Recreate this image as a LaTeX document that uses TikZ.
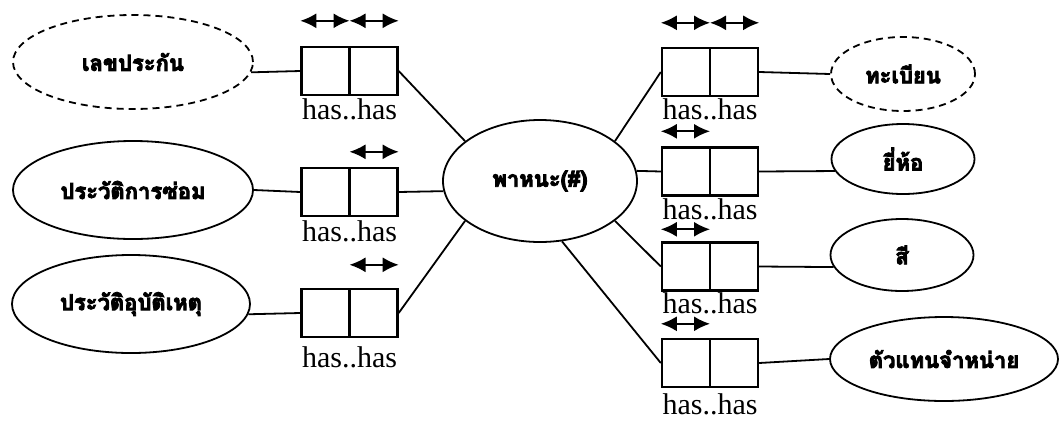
\documentclass[tikz,border=0pt]{standalone}
\usepackage{fontspec}
\setmainfont{Liberation Serif}
\newfontfamily\thaifont[Script=Thai,BoldFeatures={FakeBold=4}]{Loma}
\usetikzlibrary{shapes.geometric,arrows.meta,positioning}

\begin{document}
\begin{tikzpicture}[x=1pt,y=-1pt,
  ent/.style={draw,ellipse,line width=1.8pt,inner sep=0pt,
    font=\thaifont\bfseries\fontsize{22}{24}\selectfont},
  vent/.style={ent,dash pattern=on 7pt off 5pt},
  role/.style={draw,line width=2.4pt,minimum width=96pt,minimum height=48pt,inner sep=0pt,
    path picture={\draw[line width=2.4pt] (path picture bounding box.north) -- (path picture bounding box.south);}},
  haslbl/.style={inner sep=0pt,font=\fontsize{30}{32}\selectfont},
  uniq/.style={line width=1.8pt,{Latex[length=16pt,width=15pt]}-{Latex[length=16pt,width=15pt]}},
  conn/.style={line width=1.8pt}]
\useasboundingbox (0,0) rectangle (1060,421);

\node[vent,minimum width=240pt,minimum height=94pt] (ins) at (133,62) {เลขประกัน};
\node[ent,minimum width=240pt,minimum height=98pt] (rep) at (133,190) {ประวัติการซ่อม};
\node[ent,minimum width=238pt,minimum height=98pt] (acc) at (131,304) {ประวัติอุบัติเหตุ};
\node[ent,minimum width=194pt,minimum height=122pt] (veh) at (540,181) {พาหนะ(\#)};
\node[vent,minimum width=144pt,minimum height=74pt] (reg) at (903,74) {ทะเบียน};
\node[ent,minimum width=143pt,minimum height=70pt] (brand) at (903,159) {ยี่ห้อ};
\node[ent,minimum width=143pt,minimum height=72pt] (color) at (902,255) {สี};
\node[ent,minimum width=228pt,minimum height=84pt] (dealer) at (944,359) {ตัวแทนจำหน่าย};

\node[role] (rins) at (349.5,71) {};
\node[role] (rrep) at (349.5,192) {};
\node[role] (racc) at (349.5,313) {};
\node[role] (rreg) at (710,72) {};
\node[role] (rbrand) at (710,171.5) {};
\node[role] (rcolor) at (710,266.5) {};
\node[role] (rdealer) at (710,363) {};

\node[haslbl,below=2pt of rins] (hins) {has..has};
\node[haslbl,below=3pt of rrep] (hrep) {has..has};
\node[haslbl,below=8pt of racc] (hacc) {has..has};
\node[haslbl,below=1pt of rreg] (hreg) {has..has};
\node[haslbl,below=2pt of rbrand] (hbrand) {has..has};
\node[haslbl,below=1pt of rcolor] (hcolor) {has..has};
\node[haslbl,below=5pt of rdealer] (hdealer) {has..has};

\draw[uniq] ([yshift=25pt]rins.north west) -- ([yshift=25pt]rins.north);
\draw[uniq] ([yshift=25pt]rins.north) -- ([yshift=25pt]rins.north east);
\draw[uniq] ([yshift=15pt]rrep.north) -- ([yshift=15pt]rrep.north east);
\draw[uniq] ([yshift=23pt]racc.north) -- ([yshift=23pt]racc.north east);
\draw[uniq] ([yshift=24pt]rreg.north west) -- ([yshift=24pt]rreg.north);
\draw[uniq] ([yshift=24pt]rreg.north) -- ([yshift=24pt]rreg.north east);
\draw[uniq] ([yshift=15pt]rbrand.north west) -- ([yshift=15pt]rbrand.north);
\draw[uniq] ([yshift=12pt]rcolor.north west) -- ([yshift=12pt]rcolor.north);
\draw[uniq] ([yshift=14pt]rdealer.north west) -- ([yshift=14pt]rdealer.north);

\draw[conn] (ins.355) -- (rins.west);
\draw[conn] (rep.east) -- (rrep.west);
\draw[conn] (acc.355) -- (racc.west);
\draw[conn] (rins.east) -- (veh.152);
\draw[conn] (rrep.east) -- (veh.186);
\draw[conn] (racc.east) -- (veh.208);
\draw[conn] (rreg.west) -- (veh.28);
\draw[conn] (rbrand.west) -- (veh.6);
\draw[conn] (rcolor.west) -- (veh.332);
\draw[conn] (rdealer.west) -- (veh.290);
\draw[conn] (rreg.east) -- (reg.west);
\draw[conn] (rbrand.east) -- (brand.190);
\draw[conn] (rcolor.east) -- (color.190);
\draw[conn] (rdealer.east) -- (dealer.west);
\end{tikzpicture}
\end{document}
